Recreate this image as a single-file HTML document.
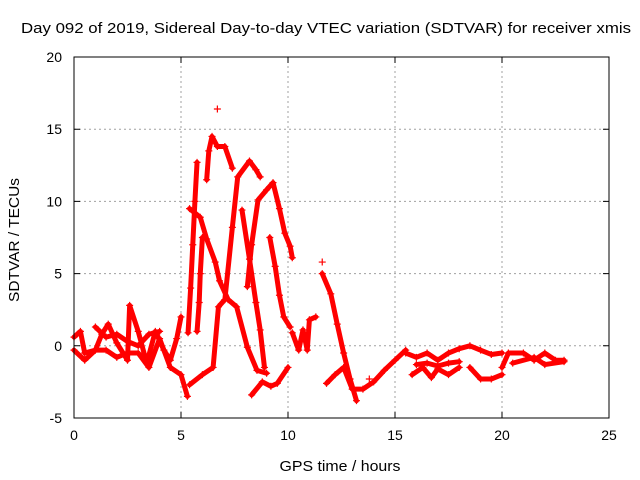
<!DOCTYPE html>
<html><head><meta charset="utf-8"><style>
html,body{margin:0;padding:0;background:#fff;}
svg{display:block;font-family:"Liberation Sans",sans-serif;}
</style></head><body>
<svg id="chart" width="640" height="480" viewBox="0 0 640 480">
<text x="326" y="33" font-size="15" textLength="610" lengthAdjust="spacingAndGlyphs" text-anchor="middle" fill="#000">Day 092 of 2019, Sidereal Day-to-day VTEC variation (SDTVAR) for receiver xmis</text>
<g id="grid"></g>
<g id="axes"></g>
<g id="marks"></g>
<rect x="74" y="57" width="535" height="361" fill="none" stroke="#000" stroke-width="1"/>
<text x="340" y="471" font-size="15" textLength="121" lengthAdjust="spacingAndGlyphs" text-anchor="middle">GPS time / hours</text>
<text x="19" y="240" font-size="15" textLength="124" lengthAdjust="spacingAndGlyphs" text-anchor="middle" transform="rotate(-90 19 240)">SDTVAR / TECUs</text>
</svg>
<script>
const xTicks=[0,5,10,15,20,25];
const yTicks=[-5,0,5,10,15,20];
const baseHours=[0,0.3,0.5,1,1.3,1.6,2,2.5,2.6,3,3.4,3.8,4.2,4.5,4.8,5];
const baseTec=[0.6,1,-0.5,-0.3,0.8,1.5,0.2,-1,2.8,1,-1.2,1,-0.3,-1,0.5,2];
const base2Hours=[0,0.5,1,1.5,2,2.5,3,3.5,4,4.5,5,5.3];
const base2Tec=[-0.3,-1,-0.3,-0.3,-0.8,-0.5,-0.5,-1.5,0.5,-1.5,-2,-3.5];
const base3Hours=[1,1.5,2,2.5,3,3.5,4];
const base3Tec=[1.3,0.6,0.8,0.3,0,0.8,1];
const riseAHours=[5.33,5.45,5.55,5.65,5.75];
const riseATec=[0.9,4,7,10,12.7];
const fallBHours=[5.4,5.9,6.2,6.6,6.8,7.2,7.6,8.1,8.55,9.0];
const fallBTec=[9.5,8.9,7.4,5.8,4.5,3.2,2.7,-0.1,-1.7,-1.9];
const peakCHours=[6.2,6.3,6.45,6.7,7.05,7.4];
const peakCTec=[11.5,13.5,14.5,13.8,13.8,12.3];
const riseDHours=[5.75,5.85,5.9,6.0];
const riseDTec=[1.0,3,5,7.5];
const archEHours=[5.4,6.0,6.5,6.75,7.05,7.4,7.65,8.2,8.5,8.7];
const archETec=[-2.7,-2,-1.5,2.7,3.2,8.2,11.7,12.8,12.2,11.7];
const fallEHours=[7.85,8.2,8.5,8.7,8.9];
const fallETec=[9.4,6,3,1.1,-1.5];
const archFHours=[8.1,8.3,8.6,9.0,9.3,9.6,9.85,10.1,10.2];
const archFTec=[4.1,7,10.1,10.8,11.3,9.5,7.8,6.9,6.1];
const fallGHours=[9.15,9.4,9.6,9.8,10.1];
const fallGTec=[7.5,5.5,3.5,2,1.3];
const lowHHours=[8.3,8.8,9.2,9.5,10];
const lowHTec=[-3.4,-2.5,-2.8,-2.6,-1.5];
const tailHours=[11.6,12.0,12.3,12.6,12.9,13.2];
const tailTec=[5.0,3.6,1.5,-0.5,-2.3,-3.8];
const lowIHours=[11.8,12.2,12.6,13.0,13.5,14,14.5,15,15.5];
const lowITec=[-2.6,-2,-1.5,-3,-3,-2.5,-1.7,-1,-0.3];
const midHours=[10.2,10.5,10.7,10.9,11.0,11.3];
const midTec=[0.9,-0.3,1.1,-0.3,1.8,2];
const band1Hours=[15.5,16,16.5,17,17.5,18,18.5,19,19.5,20];
const band1Tec=[-0.5,-0.8,-0.5,-1,-0.5,-0.2,0,-0.3,-0.6,-0.5];
const band2Hours=[15.8,16.3,16.7,17,17.5,18];
const band2Tec=[-2,-1.5,-2.2,-1.6,-2,-1.5];
const band3Hours=[18.5,19,19.5,20];
const band3Tec=[-1.5,-2.3,-2.3,-2];
const band4Hours=[16,16.5,17,17.5,18];
const band4Tec=[-1.3,-1.2,-1.4,-1.2,-1.1];
const band5Hours=[20,20.3,21,21.5,22,22.5,22.9];
const band5Tec=[-1.5,-0.5,-0.5,-1,-0.5,-1,-1];
const band6Hours=[20.5,21.5,22,22.9];
const band6Tec=[-1.2,-0.8,-1.3,-1.1];
const outHours=[6.7,11.6,13.8];
const outTec=[16.4,5.8,-2.3];

const series=[[baseHours,baseTec],[base2Hours,base2Tec],[base3Hours,base3Tec],[riseAHours,riseATec],[fallBHours,fallBTec],[peakCHours,peakCTec],[riseDHours,riseDTec],[archEHours,archETec],[fallEHours,fallETec],[archFHours,archFTec],[fallGHours,fallGTec],[lowHHours,lowHTec],[tailHours,tailTec],[lowIHours,lowITec],[midHours,midTec],[band1Hours,band1Tec],[band2Hours,band2Tec],[band3Hours,band3Tec],[band4Hours,band4Tec],[band5Hours,band5Tec],[band6Hours,band6Tec]];

const X0=74,X1=609,Y0=418,Y1=57;
function xs(v){return X0+(v-0)/(25-0)*(X1-X0);}
function ys(v){return Y0-(v+5)/(25)*(Y0-Y1);}
const NS='http://www.w3.org/2000/svg';
const grid=document.getElementById('grid'),axes=document.getElementById('axes'),marks=document.getElementById('marks');
function mk(t,a){const e=document.createElementNS(NS,t);for(const k in a)e.setAttribute(k,a[k]);return e;}
xTicks.forEach(t=>{const x=xs(t);
 if(t>0&&t<25){const g=mk('line',{x1:x,x2:x,y1:Y0,y2:Y1,stroke:'#a0a0a0','stroke-dasharray':'2,3'});
 
 grid.appendChild(g);}
 const tk=mk('path',{d:`M${x},${Y0}v-6M${x},${Y1}v6`,stroke:'#000'});
 
 axes.appendChild(tk);
 const l=mk('text',{x:x,y:Y0+22,'font-size':14,'text-anchor':'middle'});l.textContent=t;
 
 axes.appendChild(l);});
yTicks.forEach(t=>{const y=ys(t);
 if(t>-5&&t<20){const g=mk('line',{x1:X0,x2:X1,y1:y,y2:y,stroke:'#a0a0a0','stroke-dasharray':'2,3'});
 
 grid.appendChild(g);}
 const tk=mk('path',{d:`M${X0},${y}h6M${X1},${y}h-6`,stroke:'#000'});
 
 axes.appendChild(tk);
 const l=mk('text',{x:X0-12,y:y+5,'font-size':14,'text-anchor':'end'});l.textContent=t;
 
 axes.appendChild(l);});
function plus(x,y){const p=mk('path',{d:`M${x-3.5},${y}h7M${x},${y-3.5}v7`,stroke:'#f00','stroke-width':1.2});
 
 marks.appendChild(p);}
series.forEach(([hx,ty])=>{
 const pts=hx.map((h,i)=>xs(h)+','+ys(ty[i])).join(' ');
 const pl=mk('polyline',{points:pts,fill:'none',stroke:'#f00','stroke-width':5,'stroke-linejoin':'round','stroke-linecap':'round'});
 
 marks.appendChild(pl);
 hx.forEach((h,i)=>plus(xs(h),ys(ty[i])));});
outHours.forEach((h,i)=>plus(xs(h),ys(outTec[i])));
</script>
</body></html>
